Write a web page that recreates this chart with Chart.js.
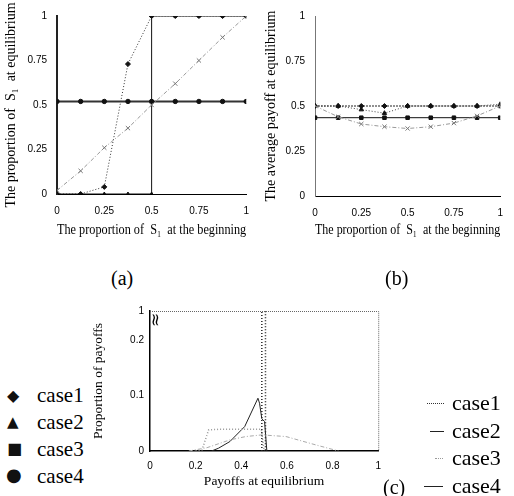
<!DOCTYPE html>
<html>
<head>
<meta charset="utf-8">
<script src="https://cdn.jsdelivr.net/npm/chart.js@4/dist/chart.umd.min.js"></script>
<style>
  body { margin: 0; background: #fff; width: 514px; height: 496px; overflow: hidden; position: relative; }
  canvas { position: absolute; }
  .lbl { position: absolute; font-family: "Liberation Serif", serif; color: #000; white-space: nowrap; line-height: 1; }
  .mk { position: absolute; font-family: "DejaVu Sans", sans-serif; color: #111; line-height: 1; }
  .ln { position: absolute; height: 0; }
</style>
</head>
<body>
<canvas id="chartA" width="260" height="246" style="left:0;top:0"></canvas>
<canvas id="chartB" width="254" height="246" style="left:260px;top:0"></canvas>
<canvas id="chartC" width="300" height="200" style="left:90px;top:296px"></canvas>

<div class="lbl" style="left:111px;top:268px;font-size:20px">(a)</div>
<div class="lbl" style="left:385px;top:268px;font-size:20px">(b)</div>
<div class="lbl" style="left:383px;top:477px;font-size:20px">(c)</div>

<!-- marker legend (left) -->
<div class="mk" style="left:7px;top:388px;font-size:16px">◆</div>
<div class="mk" style="left:7px;top:415px;font-size:15px">▲</div>
<div class="mk" style="left:7px;top:441px;font-size:16px">■</div>
<div class="mk" style="left:6px;top:466px;font-size:18px">●</div>
<div class="lbl" style="left:37px;top:385px;font-size:21px">case1</div>
<div class="lbl" style="left:37px;top:412px;font-size:21px">case2</div>
<div class="lbl" style="left:37px;top:439px;font-size:21px">case3</div>
<div class="lbl" style="left:37px;top:466px;font-size:21px">case4</div>

<!-- line legend (right) -->
<div class="ln" style="left:427px;top:403px;width:17px;border-top:1px dotted #333"></div>
<div class="ln" style="left:430px;top:431px;width:14px;border-top:1px solid #222"></div>
<div class="ln" style="left:435px;top:458px;width:8px;border-top:1px dotted #999"></div>
<div class="ln" style="left:424px;top:486px;width:19px;border-top:1px solid #222"></div>
<div class="lbl" style="left:452px;top:392px;font-size:22px">case1</div>
<div class="lbl" style="left:452px;top:420px;font-size:22px">case2</div>
<div class="lbl" style="left:452px;top:447px;font-size:22px">case3</div>
<div class="lbl" style="left:452px;top:475px;font-size:22px">case4</div>

<script>
// ---- data ----
// (a) proportion of S1 at equilibrium vs proportion at the beginning
const startProp = [0, 0.125, 0.25, 0.375, 0.5, 0.625, 0.75, 0.875, 1];
const aCase1 = [0, 0, 0.04, 0.73, 1, 1, 1, 1, 1];
const aCase2X = [0, 0.125, 0.25, 0.375, 0.5, 0.5, 0.625, 0.75, 0.875, 1];
const aCase2 = [0, 0, 0, 0, 0, 1, 1, 1, 1, 1];
const aCase3 = [0.02, 0.13, 0.26, 0.37, 0.5, 0.62, 0.75, 0.88, 1];
const aCase4 = [0.52, 0.52, 0.52, 0.52, 0.52, 0.52, 0.52, 0.52, 0.52];

// (b) average payoff at equilibrium
const bCase1 = [0.5, 0.5, 0.5, 0.5, 0.5, 0.5, 0.5, 0.5, 0.5];
const bCase2 = [0.5, 0.5, 0.48, 0.46, 0.5, 0.5, 0.5, 0.5, 0.51];
const bCase3 = [0.5, 0.44, 0.40, 0.385, 0.375, 0.385, 0.405, 0.445, 0.5];
const bCase4 = [0.435, 0.435, 0.435, 0.435, 0.435, 0.435, 0.435, 0.435, 0.435];

// shared ticks for (a) and (b)
const unitTicks = [0, 0.25, 0.5, 0.75, 1];
const unitTickLabels = ['0', '0.25', '0.5', '0.75', '1'];

// (c) distribution of payoffs at equilibrium
const cCase1X = [0.49, 0.49, 0.506, 0.506];
const cCase1 = [0, 1, 1, 0];
const cCase2X = [0.27, 0.3, 0.35, 0.415, 0.473, 0.48, 0.49, 0.502, 0.512];
const cCase2 = [0, 0.005, 0.017, 0.044, 0.095, 0.086, 0.058, 0.053, 0];
const cCase3X = [0.2, 0.228, 0.257, 0.3, 0.4, 0.488, 0.5];
const cCase3 = [0, 0.002, 0.038, 0.039, 0.039, 0.039, 0];
const cCase4X = [0.17, 0.25, 0.35, 0.42, 0.49, 0.596, 0.726, 0.826];
const cCase4 = [0, 0.006, 0.02, 0.026, 0.029, 0.026, 0.011, 0];

const cYTicks = [0, 0.1, 0.2, 0.252];   // top of broken axis
const cYTickLabels = ['0', '0.1', '0.2', '1'];
const cXTicks = [0, 0.2, 0.4, 0.6, 0.8, 1];
const cXTickLabels = ['0', '0.2', '0.4', '0.6', '0.8', '1'];

function pts(xs, ys) { return xs.map((x, i) => ({x: x, y: ys[i]})); }

const tickFont = {family: 'Liberation Sans', size: 10};
const titleFont = {family: 'Liberation Serif', size: 14};

function unitScales(xTitle, yTitle, yw, xh, yBorder) {
  return {
    x: {
      type: 'linear', min: 0, max: 1,
      afterFit: s => { s.height = xh; },
      afterBuildTicks: s => { s.ticks = unitTicks.map(v => ({value: v})); },
      grid: {display: false, drawTicks: false},
      border: {display: true, color: '#000', width: 1},
      ticks: {color: '#000', font: tickFont, padding: 11, callback: (v, i) => unitTickLabels[i]},
      title: {display: true, text: xTitle, color: '#000', font: titleFont, padding: {top: 4, bottom: 7}}
    },
    y: {
      min: 0, max: 1,
      afterFit: s => { s.width = yw; },
      afterBuildTicks: s => { s.ticks = unitTicks.map(v => ({value: v})); },
      grid: {display: false, drawTicks: false},
      border: yBorder,
      ticks: {color: '#000', font: tickFont, padding: 10, callback: (v, i) => unitTickLabels[i]},
      title: {display: true, text: yTitle, color: '#000', font: titleFont, padding: {top: 3, bottom: 4}}
    }
  };
}

const baseOpts = {
  responsive: false, animation: false,
  plugins: {legend: {display: false}, tooltip: {enabled: false}}
};

// ---- (a) ----
new Chart(document.getElementById('chartA'), {
  type: 'line',
  data: {datasets: [
    {data: pts(startProp, aCase3), borderColor: '#999', borderWidth: 1, borderDash: [4, 2, 1, 2],
     pointStyle: 'crossRot', pointRadius: 3, pointBorderColor: '#777', pointBorderWidth: 1},
    {data: pts(startProp, aCase1), borderColor: '#333', borderWidth: 1, borderDash: [1, 2],
     pointStyle: 'rectRot', pointRadius: 2.5, pointBackgroundColor: '#111', pointBorderColor: '#111'},
    {data: pts(aCase2X, aCase2), borderColor: '#111', borderWidth: 1,
     pointStyle: 'triangle', pointRadius: 2, pointBackgroundColor: '#111', pointBorderColor: '#111'},
    {data: pts(startProp, aCase4), borderColor: '#333', borderWidth: 2,
     pointStyle: 'circle', pointRadius: 2.2, pointBorderWidth: 1, pointBackgroundColor: '#111', pointBorderColor: '#111'}
  ]},
  options: Object.assign({}, baseOpts, {
    layout: {padding: {top: 8, right: 13, left: 0, bottom: 0}},
    scales: unitScales('The proportion of  S\u2081  at the beginning', 'The proportion of  S\u2081  at equilibrium',
                       57, 52, {display: true, color: '#222', width: 2})
  })
});

// ---- (b) ----
new Chart(document.getElementById('chartB'), {
  type: 'line',
  data: {datasets: [
    {data: pts(startProp, bCase3), borderColor: '#999', borderWidth: 1, borderDash: [4, 2, 1, 2],
     pointStyle: 'crossRot', pointRadius: 3, pointBorderColor: '#777', pointBorderWidth: 1},
    {data: pts(startProp, bCase2), borderColor: '#444', borderWidth: 1, borderDash: [1, 2],
     pointStyle: 'triangle', pointRadius: 2.5, pointBackgroundColor: '#111', pointBorderColor: '#111'},
    {data: pts(startProp, bCase1), borderColor: '#222', borderWidth: 1, borderDash: [2, 1],
     pointStyle: 'rectRot', pointRadius: 2.5, pointBackgroundColor: '#111', pointBorderColor: '#111'},
    {data: pts(startProp, bCase4), borderColor: '#111', borderWidth: 1,
     pointStyle: 'rect', pointRadius: 2.5, pointBackgroundColor: '#111', pointBorderColor: '#111'}
  ]},
  options: Object.assign({}, baseOpts, {
    layout: {padding: {top: 9, right: 8, left: 0, bottom: 0}},
    scales: unitScales('The proportion of  S\u2081  at the beginning', 'The average payoff at equilibrium',
                       55, 50, {display: true, color: '#777', width: 1})
  })
});

// ---- (c) ----
const boxPlugin = {
  id: 'boxBreak',
  afterDraw(chart) {
    const ctx = chart.ctx, a = chart.chartArea;
    ctx.save();
    ctx.strokeStyle = '#666';
    ctx.lineWidth = 1;
    ctx.setLineDash([1, 1]);
    ctx.beginPath();
    ctx.moveTo(a.left, a.top + 0.5);
    ctx.lineTo(a.right + 0.5, a.top + 0.5);
    ctx.lineTo(a.right + 0.5, a.bottom);
    ctx.stroke();
    // axis break mark
    const y = chart.scales.y.getPixelForValue(0.236);
    ctx.setLineDash([]);
    ctx.fillStyle = '#000';
    ctx.font = '17px "DejaVu Sans"';
    ctx.translate(a.left + 4, y);
    ctx.rotate(Math.PI / 2);
    ctx.textAlign = 'center';
    ctx.textBaseline = 'middle';
    ctx.fillText('\u2248', 0, 0);
    ctx.restore();
  }
};

new Chart(document.getElementById('chartC'), {
  type: 'line',
  data: {datasets: [
    {data: pts(cCase4X, cCase4), borderColor: '#aaa', borderWidth: 1, borderDash: [4, 2, 1, 2], pointRadius: 0},
    {data: pts(cCase3X, cCase3), borderColor: '#999', borderWidth: 1.5, borderDash: [1, 2], pointRadius: 0},
    {data: pts(cCase2X, cCase2), borderColor: '#222', borderWidth: 1, pointRadius: 0},
    {data: pts(cCase1X, cCase1), borderColor: '#222', borderWidth: 1.5, borderDash: [1, 2], pointRadius: 0}
  ]},
  options: Object.assign({}, baseOpts, {
    layout: {padding: {top: 15, right: 11, left: 0, bottom: 0}},
    scales: {
      x: {
        type: 'linear', min: 0, max: 1,
        afterFit: s => { s.height = 45; },
        afterBuildTicks: s => { s.ticks = cXTicks.map(v => ({value: v})); },
        grid: {display: false, drawTicks: false},
        border: {display: true, color: '#000', width: 1.5},
        ticks: {color: '#000', font: tickFont, padding: 9, callback: (v, i) => cXTickLabels[i]},
        title: {display: true, text: 'Payoffs at equilibrium', color: '#000',
                font: {family: 'Liberation Serif', size: 13.5}, padding: {top: 4, bottom: 6}}
      },
      y: {
        min: 0, max: cYTicks[cYTicks.length - 1],
        afterFit: s => { s.width = 60; },
        afterBuildTicks: s => { s.ticks = cYTicks.map(v => ({value: v})); },
        grid: {display: false, drawTicks: false},
        border: {display: true, color: '#000', width: 1.5},
        ticks: {color: '#000', font: tickFont, padding: 6,
                callback: (v, i) => cYTickLabels[i]},
        title: {display: true, text: 'Proportion of payoffs', color: '#000',
                font: {family: 'Liberation Serif', size: 13.5}, padding: {top: 0, bottom: 4}}
      }
    }
  }),
  plugins: [boxPlugin]
});
</script>
</body>
</html>
